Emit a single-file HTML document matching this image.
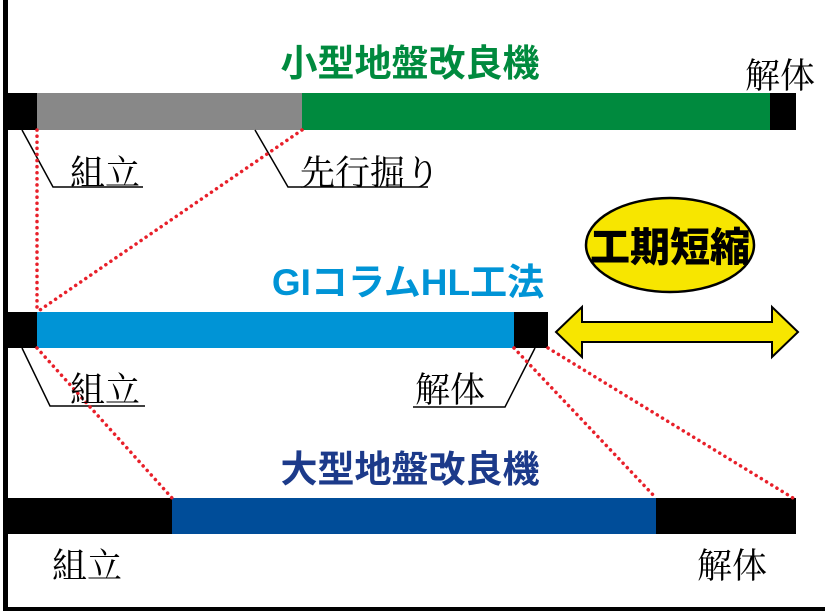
<!DOCTYPE html>
<html><head><meta charset="utf-8"><style>
body{margin:0;background:#fff;}
svg{display:block}
</style></head><body>
<svg width="827" height="615" viewBox="0 0 827 615" xmlns="http://www.w3.org/2000/svg">
<rect x="0" y="0" width="827" height="615" fill="#fff"/>
<rect x="3" y="0" width="5" height="611" fill="#000"/>
<rect x="3" y="607" width="822" height="4" fill="#000"/>
<rect x="3" y="93" width="34" height="37" fill="#000"/>
<rect x="37" y="93" width="265" height="37" fill="#888"/>
<rect x="302" y="93" width="468" height="37" fill="#008a3e"/>
<rect x="770" y="93" width="26" height="37" fill="#000"/>
<rect x="3" y="312" width="34" height="36" fill="#000"/>
<rect x="37" y="312" width="477" height="36" fill="#0094d6"/>
<rect x="514" y="312" width="34" height="36" fill="#000"/>
<rect x="3" y="498" width="169" height="36" fill="#000"/>
<rect x="172" y="498" width="484" height="36" fill="#004d99"/>
<rect x="656" y="498" width="140" height="36" fill="#000"/>
<g stroke="#000" stroke-width="1.5" fill="none">
<polyline points="22,130 53,187 143,187"/>
<polyline points="255,130 288,187 428,187"/>
<polyline points="22,348 50,406 145,406"/>
<polyline points="535,348 505,407 413,407"/>
</g>
<g stroke="#e8202a" stroke-width="3.5" stroke-dasharray="0.1 6" stroke-linecap="round" fill="none">
<line x1="37" y1="130" x2="37" y2="312"/>
<line x1="302" y1="130" x2="37" y2="312"/>
<line x1="37" y1="348" x2="172" y2="498"/>
<line x1="514" y1="348" x2="656" y2="498"/>
<line x1="548" y1="348" x2="793" y2="498"/>
</g>
<ellipse cx="670" cy="245" rx="84" ry="47" fill="#f7e600" stroke="#000" stroke-width="2.5"/>
<text x="670" y="261" text-anchor="middle" font-family="'Liberation Sans','Noto Sans CJK JP',sans-serif" font-weight="900" font-size="40" fill="#000">工期短縮</text>
<polygon points="556,332 582,307 582,322 772,322 772,307 798,332 772,357 772,342 582,342 582,357" fill="#f7e600" stroke="#000" stroke-width="2"/>
<g font-family="'Liberation Sans','Noto Sans CJK JP',sans-serif" font-weight="bold" text-anchor="middle">
<text x="410" y="76" font-size="37" fill="#008a3e">小型地盤改良機</text>
<text x="408" y="295" font-size="37" fill="#0094d6">GIコラムHL工法</text>
<text x="410" y="482" font-size="37" fill="#1c3a8a">大型地盤改良機</text>
</g>
<g font-family="'Liberation Serif','Noto Serif CJK SC',serif" font-size="35" fill="#000">
<text x="70" y="185">組立</text>
<text x="300" y="185">先行掘り</text>
<text x="745" y="88">解体</text>
<text x="70" y="402">組立</text>
<text x="415" y="402">解体</text>
<text x="52" y="578">組立</text>
<text x="697" y="578">解体</text>
</g>
</svg>
</body></html>
